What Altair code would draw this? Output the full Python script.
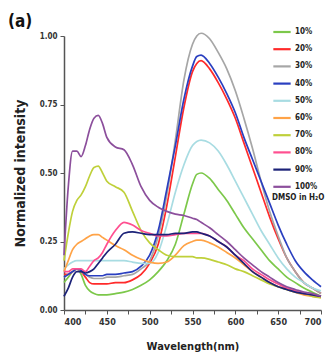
import altair as alt
import pandas as pd

wavelength = [400, 405, 410, 415, 420, 425, 430, 435, 440, 445, 450, 460, 470, 480, 490,
              500, 510, 520, 530, 540, 550, 555, 560, 570, 580, 590, 600, 610, 620, 630,
              640, 650, 660, 670, 680, 690, 700]

s10 = [0.10, 0.12, 0.14, 0.15, 0.13, 0.09, 0.07, 0.06, 0.055, 0.055, 0.055, 0.06, 0.065, 0.075, 0.09,
       0.11, 0.14, 0.18, 0.24, 0.35, 0.46, 0.495, 0.50, 0.48, 0.44, 0.40, 0.35, 0.30, 0.26, 0.22,
       0.18, 0.15, 0.12, 0.10, 0.08, 0.065, 0.05]
s20 = [0.13, 0.13, 0.14, 0.15, 0.14, 0.12, 0.10, 0.095, 0.095, 0.095, 0.095, 0.10, 0.10, 0.11, 0.13,
       0.17, 0.24, 0.38, 0.56, 0.74, 0.87, 0.90, 0.91, 0.88, 0.83, 0.77, 0.70, 0.61, 0.52, 0.43,
       0.34, 0.26, 0.19, 0.14, 0.10, 0.08, 0.06]
s30 = [0.12, 0.13, 0.14, 0.15, 0.14, 0.13, 0.12, 0.115, 0.115, 0.115, 0.12, 0.12, 0.125, 0.13, 0.15,
       0.18, 0.27, 0.42, 0.62, 0.84, 0.97, 1.00, 1.01, 0.99, 0.94, 0.88, 0.80, 0.70, 0.59, 0.47,
       0.36, 0.27, 0.19, 0.14, 0.10, 0.08, 0.06]
s40 = [0.12, 0.13, 0.14, 0.15, 0.145, 0.13, 0.125, 0.125, 0.125, 0.125, 0.13, 0.13, 0.135, 0.14, 0.16,
       0.20, 0.29, 0.44, 0.60, 0.77, 0.89, 0.925, 0.93, 0.90, 0.85, 0.79, 0.72, 0.63, 0.55, 0.47,
       0.39, 0.31, 0.24, 0.18, 0.14, 0.11, 0.085]
s50 = [0.15, 0.165, 0.175, 0.18, 0.18, 0.18, 0.18, 0.18, 0.18, 0.18, 0.18, 0.18, 0.18, 0.175, 0.17,
       0.17, 0.21, 0.31, 0.43, 0.53, 0.60, 0.615, 0.62, 0.61, 0.58, 0.53, 0.47, 0.41, 0.35, 0.29,
       0.24, 0.19, 0.15, 0.12, 0.10, 0.08, 0.07]
s60 = [0.14, 0.18, 0.22, 0.24, 0.25, 0.26, 0.27, 0.275, 0.275, 0.265, 0.255, 0.235, 0.22, 0.20, 0.185,
       0.175, 0.17, 0.175, 0.20, 0.235, 0.25, 0.255, 0.255, 0.245, 0.23, 0.21, 0.19, 0.165, 0.14, 0.12,
       0.10, 0.085, 0.075, 0.065, 0.055, 0.05, 0.045]
s70 = [0.18, 0.28, 0.36, 0.40, 0.42, 0.45, 0.49, 0.52, 0.525, 0.50, 0.47, 0.45, 0.43, 0.36, 0.29,
       0.245, 0.22, 0.20, 0.195, 0.195, 0.195, 0.19, 0.19, 0.185, 0.175, 0.165, 0.15, 0.14, 0.125, 0.11,
       0.095, 0.085, 0.075, 0.065, 0.06, 0.05, 0.045]
s80 = [0.14, 0.14, 0.15, 0.15, 0.15, 0.14, 0.16, 0.18, 0.19, 0.21, 0.24, 0.29, 0.32, 0.31, 0.29,
       0.28, 0.27, 0.27, 0.275, 0.28, 0.28, 0.28, 0.28, 0.27, 0.25, 0.23, 0.20, 0.18, 0.15, 0.13,
       0.11, 0.095, 0.08, 0.07, 0.06, 0.055, 0.05]
s90 = [0.05, 0.08, 0.12, 0.14, 0.14, 0.135, 0.14, 0.15, 0.17, 0.19, 0.21, 0.24, 0.28, 0.285, 0.28,
       0.275, 0.275, 0.275, 0.28, 0.28, 0.285, 0.285, 0.28, 0.27, 0.25, 0.23, 0.20, 0.17, 0.14, 0.12,
       0.10, 0.085, 0.075, 0.065, 0.06, 0.055, 0.05]
s100 = [0.20, 0.45, 0.58, 0.58, 0.56, 0.60, 0.66, 0.70, 0.71, 0.68, 0.63, 0.595, 0.585, 0.53, 0.45,
        0.40, 0.375, 0.36, 0.35, 0.345, 0.335, 0.33, 0.32, 0.30, 0.275, 0.25, 0.22, 0.19, 0.165, 0.14,
        0.12, 0.10, 0.085, 0.075, 0.065, 0.06, 0.05]

series_names = ["10%", "20%", "30%", "40%", "50%", "60%", "70%", "80%", "90%", "100%"]
series_values = [s10, s20, s30, s40, s50, s60, s70, s80, s90, s100]
series_colors = ["#7cc84a", "#ff2a2a", "#a6a6a6", "#2a3fc0", "#a8dce2",
                 "#ffa347", "#bfd03a", "#ff4f90", "#1c2278", "#8c4f9c"]

rows = []
for name, vals in zip(series_names, series_values):
    for w, v in zip(wavelength, vals):
        rows.append({"Wavelength": w, "Intensity": v, "Series": name})
df = pd.DataFrame(rows)

FONT = "Liberation Sans Narrow, DejaVu Sans Condensed, Liberation Sans, sans-serif"

chart = alt.Chart(df).mark_line(strokeWidth=1.7, interpolate="monotone").encode(
    x=alt.X("Wavelength:Q",
            scale=alt.Scale(domain=[400, 700], nice=False),
            axis=alt.Axis(title="Wavelength(nm)",
                          values=list(range(400, 701, 25)),
                          labelExpr="datum.value % 50 == 0 ? datum.label : ''",
                          grid=False, domainColor="#555", domainWidth=1.5,
                          tickColor="#555", tickSize=4, labelFontSize=9,
                          labelFontWeight="bold", labelColor="#333",
                          titleFontSize=11, titleFontWeight="bold", titleColor="#222",
                          labelPadding=3, titlePadding=14, labelFont=FONT, titleFont=FONT)),
    y=alt.Y("Intensity:Q",
            scale=alt.Scale(domain=[0, 1.0], nice=False, clamp=False),
            axis=alt.Axis(title="Normalized intensity",
                          values=[0, 0.25, 0.5, 0.75, 1.0], format=".2f",
                          grid=False, domainColor="#555", domainWidth=1.5,
                          tickColor="#555", tickSize=4, labelFontSize=8,
                          labelFontWeight="bold", labelColor="#333",
                          titleFontSize=14, titleFontWeight="bold", titleColor="#222",
                          labelPadding=3, titlePadding=12, labelFont=FONT, titleFont=FONT)),
    color=alt.Color("Series:N",
                    sort=series_names,
                    scale=alt.Scale(domain=series_names, range=series_colors),
                    legend=alt.Legend(title="DMSO in H\u2082O", titleOrient="bottom",
                                      orient="none", legendX=208, legendY=-14,
                                      symbolType="stroke", symbolSize=300,
                                      symbolStrokeWidth=2.2, rowPadding=2.2,
                                      labelFontSize=8, labelFontWeight="bold",
                                      labelColor="#222", labelFont=FONT,
                                      titleFontSize=8, titleFontWeight="bold",
                                      titleColor="#222", titleFont=FONT,
                                      titlePadding=3, labelOffset=3)),
).properties(
    width=257, height=274,
    autosize=alt.AutoSizeParams(type="none"),
    padding={"left": 64, "top": 36, "right": 9, "bottom": 51},
    title=alt.TitleParams("(a)", anchor="start", frame="group", fontSize=17,
                          fontWeight="bold", font=FONT, color="#111",
                          dx=-56, dy=15, offset=6),
).configure_view(stroke=None)

chart.save("out.html", embed_options={"renderer": "svg", "actions": False})
